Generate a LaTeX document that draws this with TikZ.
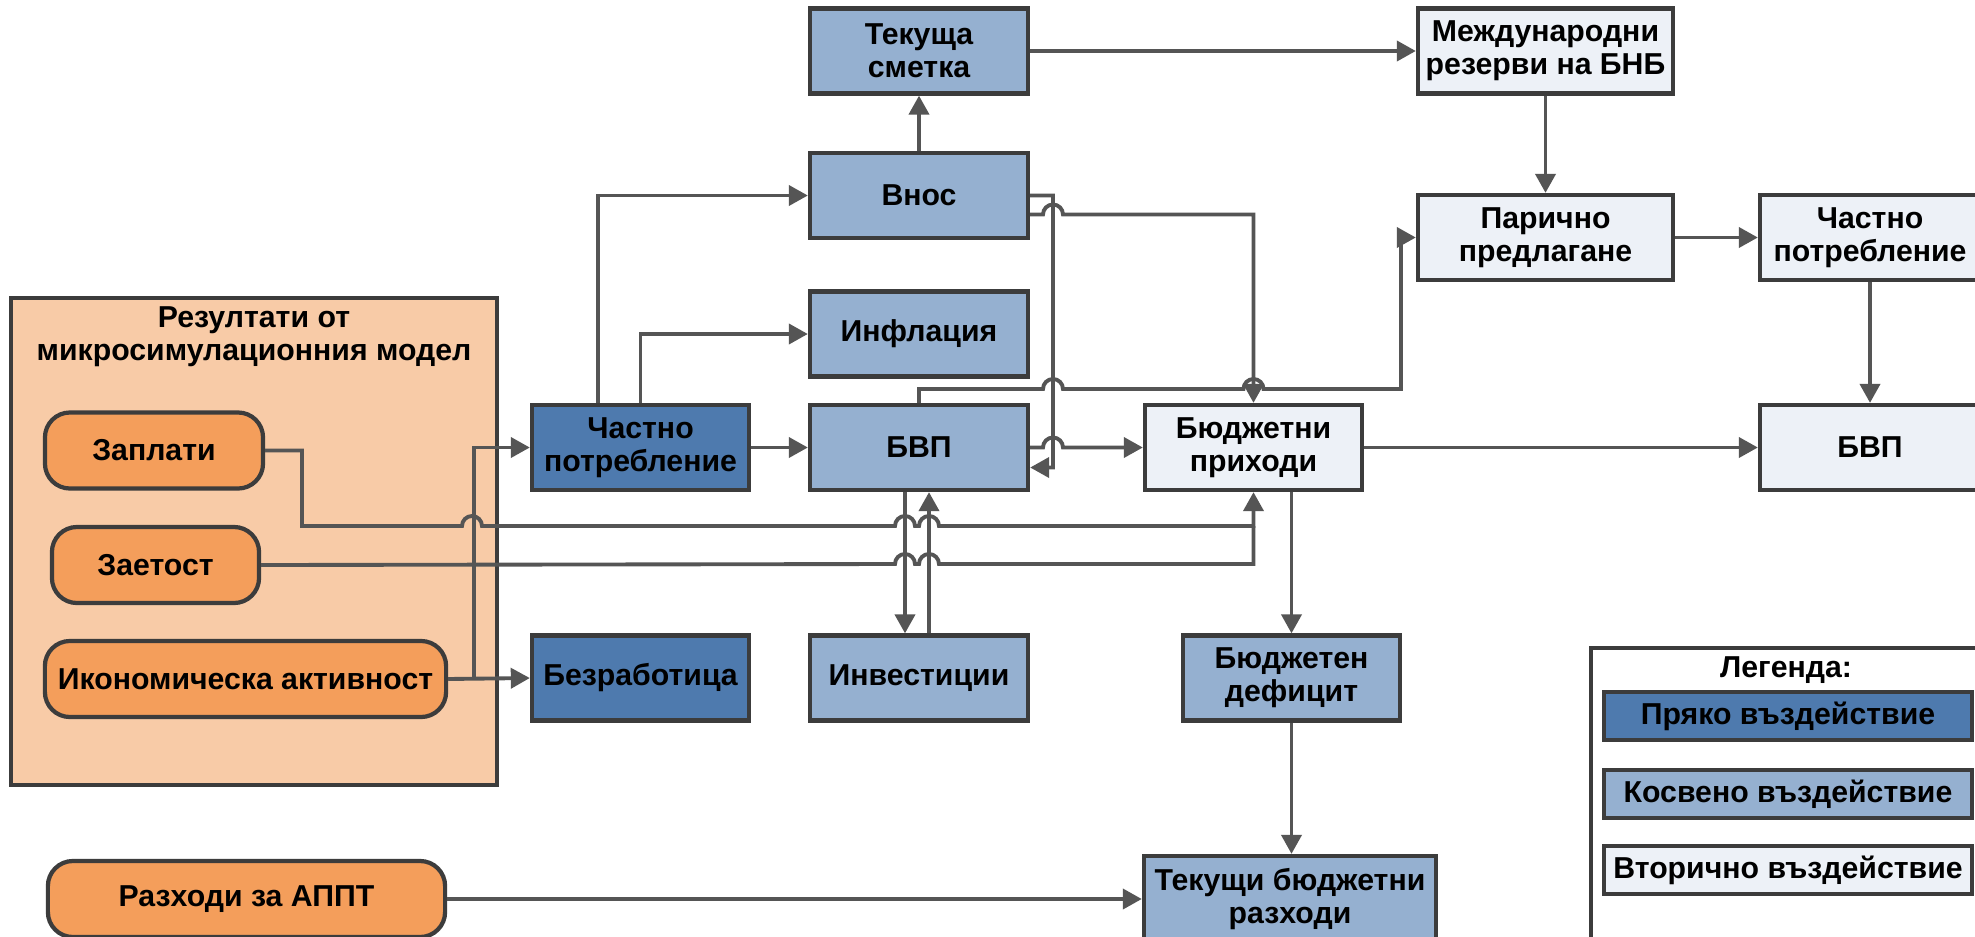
\documentclass[tikz,border=0pt]{standalone}
\usepackage{fontspec}
\setmainfont{Liberation Sans}
\usetikzlibrary{arrows.meta}
\definecolor{dirC}{HTML}{4E7AAE}
\definecolor{indC}{HTML}{95B0D0}
\definecolor{secC}{HTML}{EDF1F7}
\definecolor{orC}{HTML}{F49E5B}
\definecolor{peachC}{HTML}{F8CBA7}
\definecolor{bordC}{HTML}{3C3C3C}
\definecolor{lineC}{HTML}{555555}
\newcommand{\hopR}[2]{-- (#1-10,#2) arc[start angle=180,end angle=360,radius=10]}
\begin{document}
\begin{tikzpicture}[x=0.01cm,y=-0.01cm,
  font=\fontsize{8.6}{9.5}\selectfont\bfseries,
  basebox/.style={draw=bordC, line width=1.2pt, inner sep=0pt, align=center, minimum height=0.85cm},
  dirbox/.style={basebox, fill=dirC},
  indbox/.style={basebox, fill=indC},
  secbox/.style={basebox, fill=secC},
  orbox/.style={basebox, fill=orC, rounded corners=0.25cm, minimum height=0.76cm},
  legbox/.style={basebox, minimum width=3.68cm, minimum height=0.48cm},
  conn/.style={draw=lineC, line width=1.1pt, -{Triangle[length=0.19cm,width=0.2cm]}},
  plain/.style={draw=lineC, line width=1.1pt}]
\clip (0,0) rectangle (1975,936);
\fill[white] (0,0) rectangle (1975,936);

% micro-simulation results area
\draw[bordC, line width=1.2pt, fill=peachC] (11,298) rectangle (497,785);
\node[align=center] (title) at (254,337) {Резултати от\\микросимулационния модел};
\node[orbox, minimum width=2.18cm] (zap) at (154,450.5) {Заплати};
\node[orbox, minimum width=2.07cm] (zaet) at (155.5,565) {Заетост};
\node[orbox, minimum width=4.01cm] (ika) at (245.5,679) {Икономическа активност};
\node[orbox, minimum width=3.97cm] (rap) at (246.5,899) {Разходи за АППТ};

% direct
\node[dirbox, minimum width=2.17cm] (chp) at (640.5,447.5) {Частно\\потребление};
\node[dirbox, minimum width=2.17cm] (bez) at (640.5,678) {Безработица};

% indirect
\node[indbox, minimum width=2.18cm] (tek) at (919,51) {Текуща\\сметка};
\node[indbox, minimum width=2.18cm] (vnos) at (919,195.5) {Внос};
\node[indbox, minimum width=2.18cm] (infl) at (919,334) {Инфлация};
\node[indbox, minimum width=2.18cm] (bvp) at (919,447.5) {БВП};
\node[indbox, minimum width=2.18cm] (inv) at (919,678) {Инвестиции};
\node[indbox, minimum width=2.17cm] (bd) at (1291.5,678) {Бюджетен\\дефицит};
\node[indbox, minimum width=2.92cm, minimum height=0.86cm] (tbr) at (1290,899) {Текущи бюджетни\\разходи};

% secondary
\node[secbox, minimum width=2.55cm] (mr) at (1545.5,51) {Международни\\резерви на БНБ};
\node[secbox, minimum width=2.55cm] (pp) at (1545.5,237.5) {Парично\\предлагане};
\node[secbox, minimum width=2.2cm] (chp2) at (1870,237.5) {Частно\\потребление};
\node[secbox, minimum width=2.17cm] (bp) at (1253.5,447.5) {Бюджетни\\приходи};
\node[secbox, minimum width=2.2cm] (bvp2) at (1870,447.5) {БВП};

% legend
\draw[bordC, line width=1.2pt, fill=white] (1591,648) rectangle (1995,955);
\node (legt) at (1786,670) {Легенда:};
\node[legbox, fill=dirC] (leg1) at (1788,716) {Пряко въздействие};
\node[legbox, fill=indC] (leg2) at (1788,794) {Косвено въздействие};
\node[legbox, fill=secC] (leg3) at (1788,870) {Вторично въздействие};

% connectors
\draw[conn] ([xshift=-0.425cm]chp.north) |- (vnos.west);
\draw[conn] (chp.north) |- (infl.west);
\draw[conn] (chp.east) -- (bvp.west);
\draw[conn] (vnos.north) -- (tek.south);
\draw[conn] (tek.east) -- (mr.west);
\draw[conn] (vnos.east) -- (1053,195.5) -- (1053,467.5) -- ([yshift=-0.2cm]bvp.east);
\draw[conn] ([yshift=-0.19cm]vnos.east) \hopR{1053}{214.5} -- (1253.5,214.5) -- (bp.north);
\draw[conn] (bvp.north) -- (919,389) \hopR{1053}{389} \hopR{1253.5}{389} -- (1401,389) -- (1401,237.5) -- (pp.west);
\draw[conn] (bvp.east) \hopR{1053}{447.5} -- (bp.west);
\draw[conn] (mr.south) -- (pp.north);
\draw[conn] (pp.east) -- (chp2.west);
\draw[conn] (chp2.south) -- (bvp2.north);
\draw[conn] (bp.east) -- (bvp2.west);
\draw[conn] (bp.south -| bd.north) -- (bd.north);
\draw[conn] (bd.south) -- (bd.south |- tbr.north);
\draw[conn] (rap.east) -- (tbr.west);
\draw[conn] ([xshift=-0.14cm]bvp.south) -- ([xshift=-0.14cm]inv.north);
\draw[conn] ([xshift=0.1cm]inv.north) -- ([xshift=0.1cm]bvp.south);
\draw[conn] (zap.east) -- (302,450.5) -- (302,526) \hopR{472}{526} \hopR{905}{526} \hopR{929}{526} -- (1253.5,526) -- (bp.south);
\draw[plain] (zaet.east) \hopR{905}{564} \hopR{929}{564} -- (1253.5,564) -- (1253.5,526);
\draw[conn] (ika.east) -- (bez.west);
\draw[conn] ([xshift=0.26cm]ika.east) |- (chp.west);
\end{tikzpicture}
\end{document}
